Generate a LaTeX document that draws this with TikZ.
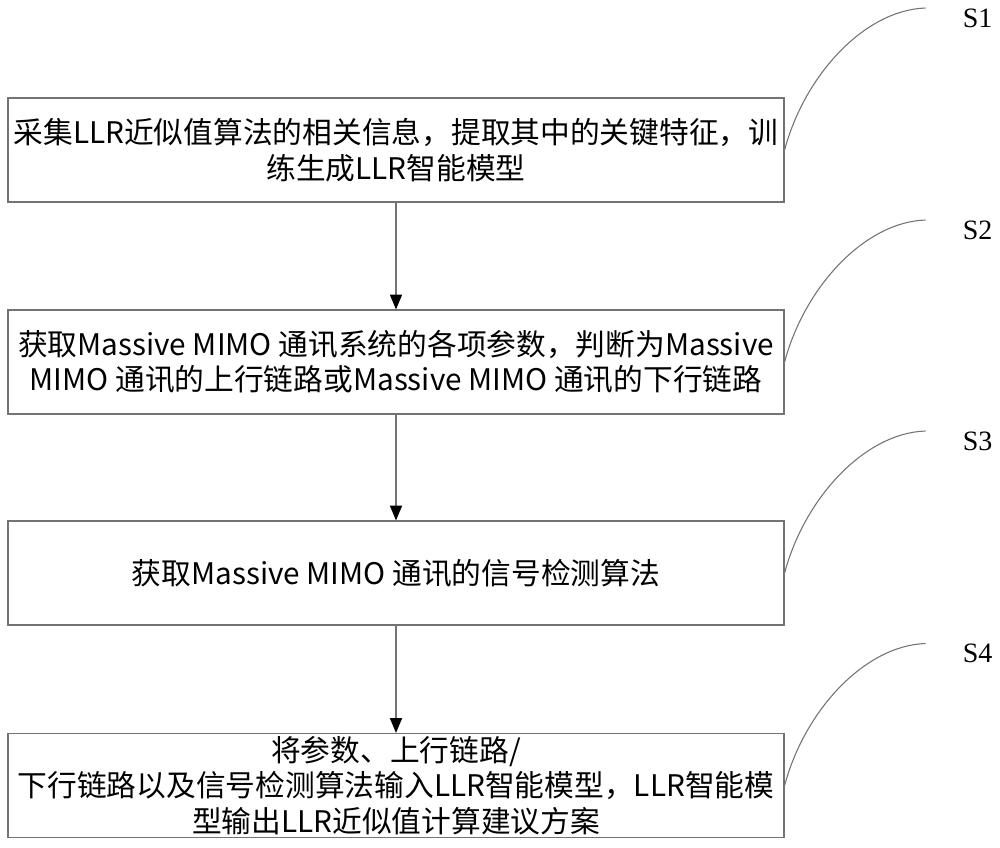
\documentclass[tikz,border=0pt]{standalone}
\usepackage{fontspec}
\setmainfont{Liberation Serif}
\newfontfamily\cjk{Noto Sans CJK SC}
\usetikzlibrary{arrows.meta,calc}
\definecolor{linegray}{rgb}{0.45,0.45,0.45}
\tikzset{
  stepbox/.style={draw=linegray, line width=0.9pt, minimum width=582pt, minimum height=78pt,
    inner sep=0pt, align=center, font=\cjk\fontsize{22.3}{26.5}\selectfont},
  flowarrow/.style={draw=linegray, line width=0.9pt, -{Triangle[width=9pt,length=11pt,fill=black,color=black]}},
  leader/.style={draw=linegray, line width=0.8pt},
  steplabel/.style={font=\fontsize{21}{25}\selectfont, inner sep=0pt}
}
\begin{document}
\begin{tikzpicture}[x=0.75pt,y=-0.75pt]
\useasboundingbox (0,0) rectangle (1000,847);
\node[stepbox] (b1) at (396,150) {采集LLR近似值算法的相关信息，提取其中的关键特征，训\\练生成LLR智能模型};
\node[stepbox] (b2) at (396,362) {获取Massive MIMO 通讯系统的各项参数，判断为Massive\\MIMO 通讯的上行链路或Massive MIMO 通讯的下行链路};
\node[stepbox] (b3) at (396,573) {获取Massive MIMO 通讯的信号检测算法};
\node[stepbox] (b4) at (396,785.5) {将参数、上行链路/\\下行链路以及信号检测算法输入LLR智能模型，LLR智能模\\型输出LLR近似值计算建议方案};
\draw[flowarrow] (b1.south) -- (b2.north);
\draw[flowarrow] (b2.south) -- (b3.north);
\draw[flowarrow] (b3.south) -- (b4.north);
\foreach \i in {1,2,3,4}{
  \coordinate (c\i) at ($(b\i.east)+(141,-142)$);
  \node[steplabel] (s\i) at ($(b\i.east)+(193,-132)$) {S\i};
  \draw[leader] (b\i.east) .. controls ($(b\i.east)+(20,-75)$) and ($(b\i.east)+(80,-140)$) .. (c\i);
}
\end{tikzpicture}
\end{document}
